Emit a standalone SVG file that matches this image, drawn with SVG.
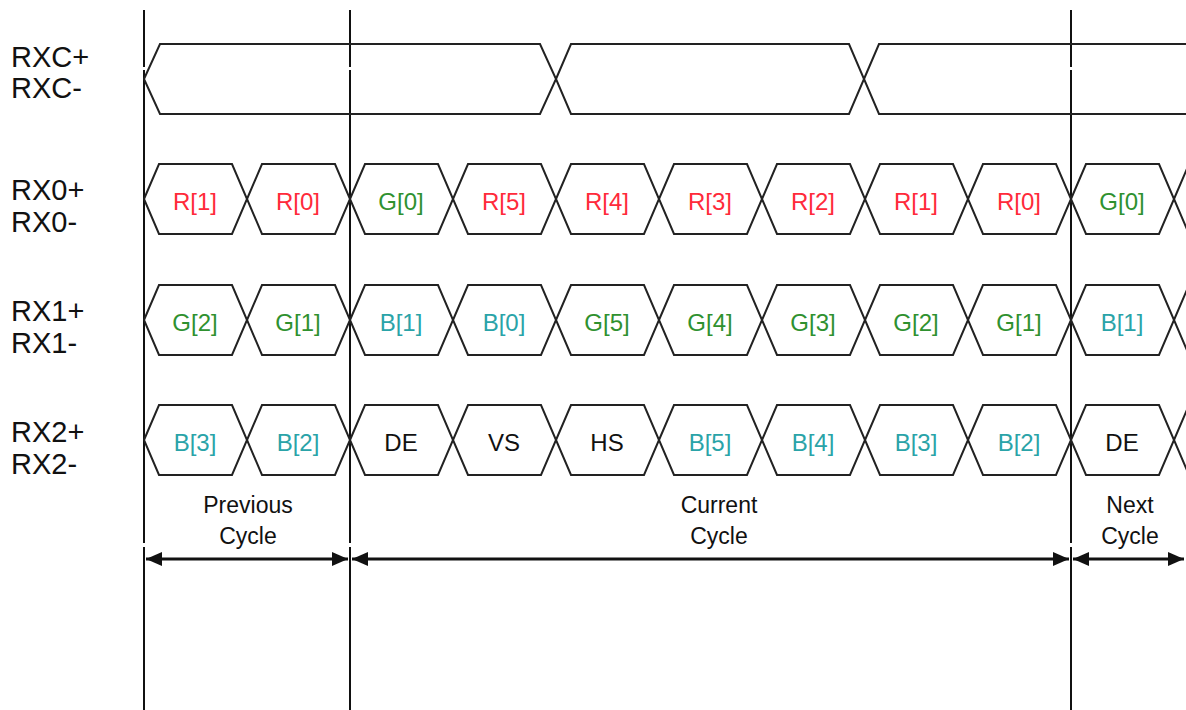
<svg xmlns="http://www.w3.org/2000/svg" width="1186" height="710" viewBox="0 0 1186 710">
<style>
.bg{fill:#fff}
.vl{stroke:#111;stroke-width:2;fill:none}
.bus{fill:none;stroke:#222;stroke-width:2;stroke-linejoin:miter}
.lbl{font-family:"Liberation Sans",Arial,sans-serif;font-size:29px;fill:#111}
.d{font-family:"Liberation Sans",Arial,sans-serif;font-size:24px;text-anchor:middle}
.r{fill:#ff2a3a}
.g{fill:#2f912f}
.b{fill:#2aa3a8}
.k{fill:#111}
.cap{font-family:"Liberation Sans",Arial,sans-serif;font-size:23px;fill:#111;text-anchor:middle}
.arr{stroke:#111;stroke-width:2.8;fill:none;marker-start:url(#ah);marker-end:url(#ah)}
</style>
<defs>
<marker id="ah" markerUnits="userSpaceOnUse" markerWidth="17" markerHeight="15" refX="16" refY="7" orient="auto-start-reverse" viewBox="0 0 17 14">
<path d="M0,0 L16,7 L0,14 z" fill="#111"/>
</marker>
</defs>
<rect class="bg" x="0" y="0" width="1186" height="710"/>

<g id="gridlines">
<path class="vl" d="M144,10V67M144,70V543M144,547V710"/>
<path class="vl" d="M350,10V67M350,70V543M350,547V710"/>
<path class="vl" d="M1071,10V67M1071,70V543M1071,547V710"/>
</g>

<g id="labels">
<text class="lbl" x="11" y="67">RXC+</text>
<text class="lbl" x="11" y="98">RXC-</text>
<text class="lbl" x="11" y="200">RX0+</text>
<text class="lbl" x="11" y="232">RX0-</text>
<text class="lbl" x="11" y="321">RX1+</text>
<text class="lbl" x="11" y="353">RX1-</text>
<text class="lbl" x="11" y="442">RX2+</text>
<text class="lbl" x="11" y="474">RX2-</text>
</g>

<g id="rxc">
<path class="bus" d="M144,79L160,44H540L556,79L540,114H160Z"/>
<path class="bus" d="M556,79L571,44H849L864,79L849,114H571Z"/>
<path class="bus" d="M864,79L879,44H1300V114H879Z"/>
</g>

<g id="rx0">
<path class="bus" d="M144,199L159,164H232L247,199L232,234H159Z"/>
<path class="bus" d="M247,199L262,164H335L350,199L335,234H262Z"/>
<path class="bus" d="M350,199L365,164H438L453,199L438,234H365Z"/>
<path class="bus" d="M453,199L468,164H541L556,199L541,234H468Z"/>
<path class="bus" d="M556,199L571,164H644L659,199L644,234H571Z"/>
<path class="bus" d="M659,199L674,164H747L762,199L747,234H674Z"/>
<path class="bus" d="M762,199L777,164H850L865,199L850,234H777Z"/>
<path class="bus" d="M865,199L880,164H953L968,199L953,234H880Z"/>
<path class="bus" d="M968,199L983,164H1056L1071,199L1056,234H983Z"/>
<path class="bus" d="M1071,199L1086,164H1159L1174,199L1159,234H1086Z"/>
<path class="bus" d="M1174,199L1189,164H1300V234H1189Z"/>
<text class="d r" x="195" y="210">R[1]</text>
<text class="d r" x="298" y="210">R[0]</text>
<text class="d g" x="401" y="210">G[0]</text>
<text class="d r" x="504" y="210">R[5]</text>
<text class="d r" x="607" y="210">R[4]</text>
<text class="d r" x="710" y="210">R[3]</text>
<text class="d r" x="813" y="210">R[2]</text>
<text class="d r" x="916" y="210">R[1]</text>
<text class="d r" x="1019" y="210">R[0]</text>
<text class="d g" x="1122" y="210">G[0]</text>
</g>

<g id="rx1">
<path class="bus" d="M144,320L159,285H232L247,320L232,355H159Z"/>
<path class="bus" d="M247,320L262,285H335L350,320L335,355H262Z"/>
<path class="bus" d="M350,320L365,285H438L453,320L438,355H365Z"/>
<path class="bus" d="M453,320L468,285H541L556,320L541,355H468Z"/>
<path class="bus" d="M556,320L571,285H644L659,320L644,355H571Z"/>
<path class="bus" d="M659,320L674,285H747L762,320L747,355H674Z"/>
<path class="bus" d="M762,320L777,285H850L865,320L850,355H777Z"/>
<path class="bus" d="M865,320L880,285H953L968,320L953,355H880Z"/>
<path class="bus" d="M968,320L983,285H1056L1071,320L1056,355H983Z"/>
<path class="bus" d="M1071,320L1086,285H1159L1174,320L1159,355H1086Z"/>
<path class="bus" d="M1174,320L1189,285H1300V355H1189Z"/>
<text class="d g" x="195" y="331">G[2]</text>
<text class="d g" x="298" y="331">G[1]</text>
<text class="d b" x="401" y="331">B[1]</text>
<text class="d b" x="504" y="331">B[0]</text>
<text class="d g" x="607" y="331">G[5]</text>
<text class="d g" x="710" y="331">G[4]</text>
<text class="d g" x="813" y="331">G[3]</text>
<text class="d g" x="916" y="331">G[2]</text>
<text class="d g" x="1019" y="331">G[1]</text>
<text class="d b" x="1122" y="331">B[1]</text>
</g>

<g id="rx2">
<path class="bus" d="M144,440L159,405H232L247,440L232,475H159Z"/>
<path class="bus" d="M247,440L262,405H335L350,440L335,475H262Z"/>
<path class="bus" d="M350,440L365,405H438L453,440L438,475H365Z"/>
<path class="bus" d="M453,440L468,405H541L556,440L541,475H468Z"/>
<path class="bus" d="M556,440L571,405H644L659,440L644,475H571Z"/>
<path class="bus" d="M659,440L674,405H747L762,440L747,475H674Z"/>
<path class="bus" d="M762,440L777,405H850L865,440L850,475H777Z"/>
<path class="bus" d="M865,440L880,405H953L968,440L953,475H880Z"/>
<path class="bus" d="M968,440L983,405H1056L1071,440L1056,475H983Z"/>
<path class="bus" d="M1071,440L1086,405H1159L1174,440L1159,475H1086Z"/>
<path class="bus" d="M1174,440L1189,405H1300V475H1189Z"/>
<text class="d b" x="195" y="451">B[3]</text>
<text class="d b" x="298" y="451">B[2]</text>
<text class="d k" x="401" y="451">DE</text>
<text class="d k" x="504" y="451">VS</text>
<text class="d k" x="607" y="451">HS</text>
<text class="d b" x="710" y="451">B[5]</text>
<text class="d b" x="813" y="451">B[4]</text>
<text class="d b" x="916" y="451">B[3]</text>
<text class="d b" x="1019" y="451">B[2]</text>
<text class="d k" x="1122" y="451">DE</text>
</g>

<g id="cycle-labels">
<text class="cap" x="248" y="513">Previous</text>
<text class="cap" x="248" y="544">Cycle</text>
<text class="cap" x="719" y="513">Current</text>
<text class="cap" x="719" y="544">Cycle</text>
<text class="cap" x="1130" y="513">Next</text>
<text class="cap" x="1130" y="544">Cycle</text>
</g>

<g id="connectors">
<line class="arr" x1="146" y1="559" x2="348" y2="559"/>
<line class="arr" x1="352" y1="559" x2="1069" y2="559"/>
<line class="arr" x1="1073" y1="559" x2="1184" y2="559"/>
</g>
</svg>
